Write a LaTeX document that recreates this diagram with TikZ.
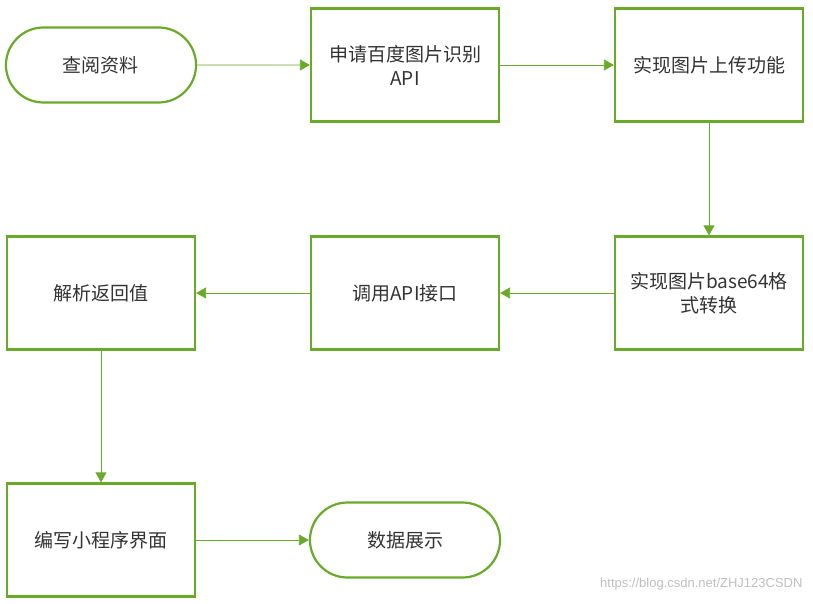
\documentclass[tikz,border=0pt]{standalone}
\usepackage{fontspec}
\setmainfont{Noto Sans CJK SC}
\setsansfont{Liberation Sans}
\usetikzlibrary{shapes.misc,arrows.meta}
\definecolor{gr}{HTML}{6AAA2A}
\definecolor{tx}{HTML}{333333}
\begin{document}
\begin{tikzpicture}[x=1pt,y=-1pt,
 box/.style={draw=gr,line width=2.2pt,fill=white,minimum width=188pt,minimum height=113pt,text width=184pt,align=center,font=\fontsize{19}{24}\selectfont,text=tx,inner sep=2pt},
 term/.style={box,rounded rectangle,minimum height=75pt},
 arr/.style={draw=gr,line width=0.8pt,-{Triangle[length=10pt,width=11pt]}}]
\useasboundingbox (0,0) rectangle (813,604);
\node[term] (a) at (101,65) {查阅资料};
\node[box] (b) at (405,65) {申请百度图片识别\\API};
\node[box] (c) at (709,65) {实现图片上传功能};
\node[box] (d) at (709,293) {实现图片base64格\\式转换};
\node[box] (e) at (405,293) {调用API接口};
\node[box] (f) at (101,293) {解析返回值};
\node[box] (g) at (101,540) {编写小程序界面};
\node[term] (h) at (405,540) {数据展示};
\draw[arr] (a) -- (b);
\draw[arr] (b) -- (c);
\draw[arr] (c) -- (d);
\draw[arr] (d) -- (e);
\draw[arr] (e) -- (f);
\draw[arr] (f) -- (g);
\draw[arr] (g) -- (h);
\node[anchor=east,text=black!25,font=\sffamily\fontsize{13}{15}\selectfont] (w) at (806,584) {https://blog.csdn.net/ZHJ123CSDN};
\end{tikzpicture}
\end{document}
